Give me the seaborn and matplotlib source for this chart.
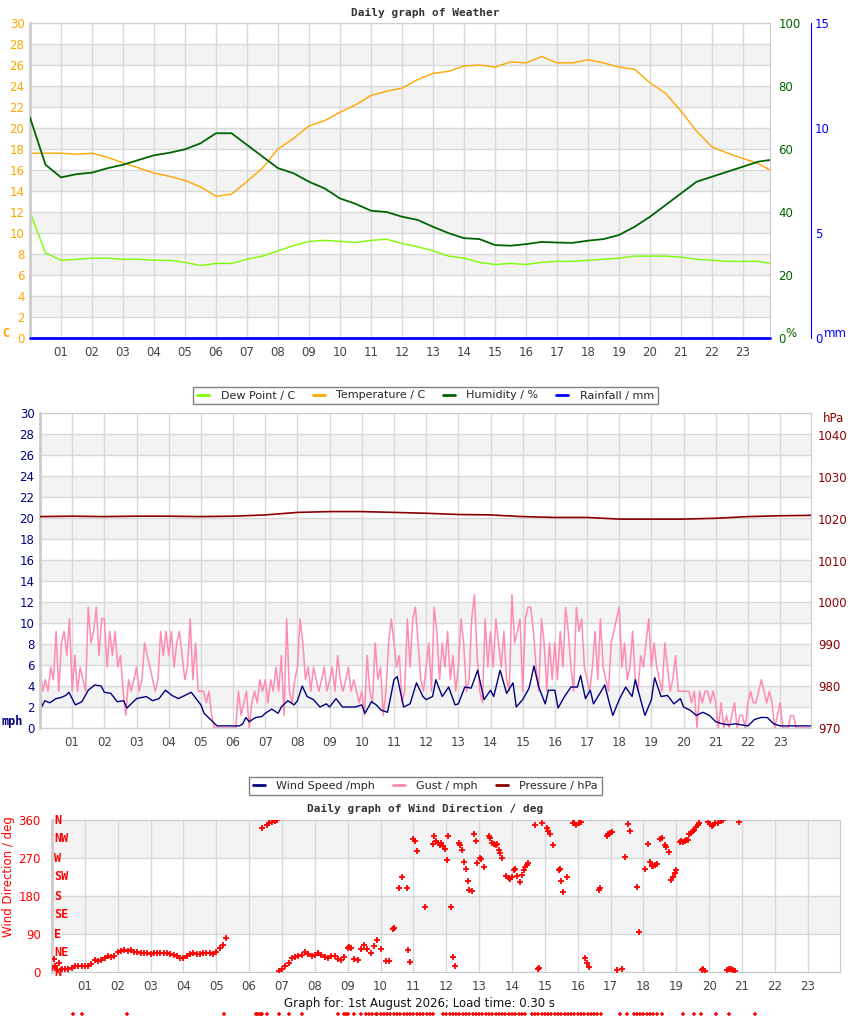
import numpy as np
import pandas as pd
import matplotlib
matplotlib.use("Agg")
import matplotlib.pyplot as plt
import matplotlib.transforms as mtransforms
from matplotlib.lines import Line2D
import seaborn as sns

# ---------------- top panel: temperature / dew point / humidity / rain
half_hours = list(np.arange(0, 24, 0.5)) + [23.87]
temperature = [17.6, 17.6, 17.6, 17.5, 17.6, 17.2, 16.7, 16.2, 15.7, 15.4,
               15.0, 14.4, 13.5, 13.7, 14.9, 16.2, 18.0, 19.0, 20.2, 20.7,
               21.5, 22.2, 23.1, 23.5, 23.8, 24.6, 25.2, 25.4, 25.9, 26.0,
               25.8, 26.3, 26.2, 26.8, 26.2, 26.2, 26.5, 26.2, 25.8, 25.6,
               24.3, 23.3, 21.6, 19.7, 18.2, 17.6, 17.1, 16.6, 16.0]
dew_point = [12.0, 8.1, 7.4, 7.5, 7.6, 7.6, 7.5, 7.5, 7.4, 7.4,
             7.2, 6.9, 7.1, 7.1, 7.5, 7.8, 8.3, 8.8, 9.2, 9.3,
             9.2, 9.1, 9.3, 9.4, 9.0, 8.7, 8.3, 7.8, 7.6, 7.2,
             7.0, 7.1, 7.0, 7.2, 7.3, 7.3, 7.4, 7.5, 7.6, 7.8,
             7.8, 7.8, 7.7, 7.5, 7.4, 7.3, 7.3, 7.3, 7.1]
humidity = [70.0, 55.0, 51.0, 52.0, 52.5, 53.9, 55.0, 56.5, 58.0, 58.8,
            59.9, 61.8, 65.0, 65.0, 61.3, 57.6, 53.9, 52.3, 49.6, 47.5,
            44.3, 42.6, 40.4, 40.0, 38.5, 37.5, 35.3, 33.3, 31.7, 31.4,
            29.5, 29.3, 29.8, 30.5, 30.3, 30.2, 30.9, 31.4, 32.7, 35.3,
            38.5, 42.2, 45.9, 49.6, 51.2, 52.8, 54.4, 56.0, 56.5]
rain_hours = [0, 23.87]
rainfall = [0.0, 0.0]

# ---------------- middle panel: wind / gust / pressure
wind_hours = [0.0, 0.05, 0.15, 0.3, 0.5, 0.65, 0.8, 0.9, 1.0, 1.1, 1.3, 1.5, 1.7, 1.9,
              2.0, 2.2, 2.4, 2.6, 2.7, 2.8, 3.0, 3.3, 3.5, 3.7, 3.9, 4.1, 4.3, 4.5,
              4.7, 4.9, 5.0, 5.1, 5.3, 5.5, 6.2, 6.3, 6.4, 6.5, 6.7, 6.9, 7.0, 7.2,
              7.4, 7.5, 7.7, 7.9, 8.0, 8.15, 8.3, 8.5, 8.7, 8.9, 9.0, 9.2, 9.4, 9.6,
              9.8, 10.0, 10.1, 10.3, 10.45, 10.6, 10.8, 10.9, 11.0, 11.1, 11.3, 11.5,
              11.7, 11.9, 12.0, 12.2, 12.3, 12.5, 12.7, 12.9, 13.0, 13.2, 13.4, 13.6,
              13.8, 14.0, 14.1, 14.3, 14.5, 14.7, 14.8, 15.0, 15.2, 15.35, 15.5, 15.7,
              15.8, 16.0, 16.1, 16.3, 16.5, 16.7, 16.8, 16.95, 17.1, 17.2, 17.4, 17.55,
              17.7, 17.8, 18.0, 18.2, 18.4, 18.5, 18.7, 18.8, 19.0, 19.1, 19.3, 19.5,
              19.7, 19.9, 20.0, 20.2, 20.4, 20.6, 20.8, 21.0, 21.2, 21.4, 21.6, 21.8,
              22.0, 22.2, 22.4, 22.6, 22.8, 23.0, 23.96]
wind_speed = [3.6, 2.0, 2.6, 2.4, 2.8, 2.9, 3.1, 3.4, 2.8, 2.2, 2.5, 3.6, 4.1, 4.0,
              3.4, 3.3, 2.5, 2.6, 1.9, 2.2, 2.8, 3.0, 2.6, 2.8, 3.6, 3.1, 2.8, 3.1,
              3.4, 2.6, 2.2, 1.4, 0.8, 0.2, 0.2, 0.4, 1.0, 0.6, 1.0, 1.1, 1.4, 1.8,
              1.4, 2.0, 2.6, 2.2, 2.6, 4.0, 3.0, 2.7, 2.0, 2.3, 2.0, 2.8, 2.0, 2.0,
              2.0, 2.2, 1.4, 2.5, 2.2, 1.7, 1.5, 3.0, 4.6, 4.9, 2.0, 2.3,
              4.3, 3.0, 2.7, 3.0, 4.6, 3.0, 3.9, 2.2, 2.3, 3.9, 3.8, 5.5,
              2.7, 3.6, 3.0, 5.5, 3.3, 4.3, 2.0, 2.7, 3.8, 5.9, 3.9, 2.3,
              3.6, 3.6, 1.9, 3.0, 3.9, 3.9, 5.0, 2.8, 3.6, 2.3, 3.3, 4.1,
              2.3, 1.2, 2.7, 3.9, 3.0, 4.6, 2.3, 1.2, 2.7, 4.8, 3.0, 3.1,
              2.3, 2.8, 2.0, 1.7, 1.2, 1.5, 1.2, 0.6, 0.4, 0.3, 0.4, 0.3,
              0.2, 0.8, 1.0, 1.0, 0.4, 0.2, 0.2]

# gust, one value every 5 minutes (one row per hour)
gust = [
    5.8, 3.5, 4.6, 3.5, 5.8, 4.6, 9.2, 3.5, 8.1, 9.2, 6.9, 10.4,
    3.5, 6.9, 3.5, 5.8, 4.6, 3.5, 11.5, 8.1, 9.2, 11.5, 6.9, 10.4,
    10.4, 5.8, 9.2, 6.9, 9.2, 5.8, 6.9, 3.5, 1.2, 4.6, 3.5, 4.6,
    5.8, 3.5, 4.6, 8.1, 6.9, 5.8, 4.6, 3.5, 4.6, 9.2, 6.9, 9.2,
    6.9, 9.2, 5.8, 8.1, 9.2, 6.9, 4.6, 5.8, 10.4, 4.6, 8.1, 3.5,
    3.5, 3.5, 2.4, 3.5, 1.2, 0, 0, 0, 0, 0, 0, 0,
    0, 0, 3.5, 1.2, 2.4, 3.5, 0, 2.4, 3.5, 2.4, 4.6, 3.5,
    4.6, 2.4, 4.6, 3.5, 5.8, 3.5, 6.9, 1.2, 10.4, 3.5, 2.4, 4.6,
    5.8, 10.4, 8.1, 4.6, 5.8, 3.5, 5.8, 4.6, 3.5, 4.6, 5.8, 3.5,
    4.6, 5.8, 3.5, 6.9, 4.6, 3.5, 4.6, 5.8, 3.5, 4.6, 3.5, 2.4,
    3.5, 1.2, 6.9, 3.5, 2.4, 8.1, 4.6, 5.8, 1.2, 3.5, 8.1, 10.4,
    8.1, 5.8, 6.9, 2.4, 3.5, 10.4, 5.8, 10.4, 11.5, 8.1, 4.6, 3.5,
    5.8, 8.1, 3.5, 11.5, 9.2, 4.6, 8.1, 5.8, 9.2, 4.6, 6.9, 3.5,
    5.8, 10.4, 8.1, 3.5, 4.6, 10.4, 12.7, 6.9, 3.5, 2.4, 10.4, 5.8,
    9.2, 5.8, 10.4, 8.1, 5.8, 9.2, 4.6, 3.5, 12.7, 8.1, 9.2, 10.4,
    3.5, 10.4, 11.5, 11.5, 9.2, 5.8, 3.5, 10.4, 8.1, 3.5, 8.1, 4.6,
    8.1, 4.6, 9.2, 5.8, 11.5, 9.2, 5.8, 3.5, 11.5, 9.2, 10.4, 5.8,
    4.6, 3.5, 5.8, 9.2, 4.6, 10.4, 5.8, 4.6, 3.5, 8.1, 9.2, 10.4,
    11.5, 5.8, 8.1, 4.6, 5.8, 9.2, 4.6, 3.5, 6.9, 5.8, 8.1, 10.4,
    5.8, 8.1, 5.8, 4.6, 3.5, 8.1, 5.8, 3.5, 4.6, 6.9, 3.5, 3.5,
    3.5, 3.5, 3.5, 2.4, 3.5, 0, 3.5, 2.4, 3.5, 3.5, 2.4, 3.5,
    2.4, 0, 2.4, 0, 1.2, 0, 1.2, 2.4, 0, 1.2, 1.2, 0,
    2.4, 3.5, 2.4, 2.4, 3.5, 4.6, 3.5, 2.4, 3.5, 2.4, 0, 1.2,
    2.4, 0, 0, 0, 1.2, 1.2, 0, 0, 0, 0, 0, 0,
]
gust_hours = np.arange(len(gust)) / 12

pressure_hours = list(range(24)) + [23.96]
pressure = [1020.5, 1020.6, 1020.5, 1020.6, 1020.6, 1020.5, 1020.6, 1020.9,
            1021.5, 1021.7, 1021.7, 1021.5, 1021.3, 1021.0, 1020.9, 1020.5,
            1020.3, 1020.3, 1019.9, 1019.9, 1019.9, 1020.1, 1020.5, 1020.7,
            1020.8]

# ---------------- bottom panel: wind direction
dir_hours = [0.0, 0.05, 0.1, 0.15, 0.2, 0.3, 0.4, 0.5, 0.6, 0.7, 0.8, 0.9, 1.0, 1.1,
             1.2, 1.3, 1.4, 1.5, 1.6, 1.7, 1.8, 1.9, 2.0, 2.1, 2.2, 2.3, 2.4, 2.5,
             2.6, 2.7, 2.8, 2.9, 3.0, 3.1, 3.2, 3.3, 3.4, 3.5, 3.6, 3.7, 3.8, 3.9,
             4.0, 4.1, 4.2, 4.3, 4.4, 4.5, 4.6, 4.7, 4.8, 4.9, 5.0, 5.1, 5.2, 5.3,
             6.4, 6.55, 6.6, 6.7, 6.8, 6.85,
             6.9, 7.0, 7.1, 7.2, 7.3, 7.4, 7.5, 7.6, 7.7, 7.8, 7.9, 8.0, 8.1, 8.2,
             8.3, 8.4, 8.5, 8.6, 8.7, 8.8, 8.9, 9.0, 9.05, 9.1, 9.2, 9.3, 9.4, 9.5,
             9.6, 9.7, 9.8, 9.9, 10.0, 10.15, 10.25, 10.37, 10.42, 10.57, 10.66,
             10.8, 10.82, 10.88, 11.0, 11.05, 11.1, 11.36, 11.58, 11.63, 11.7,
             11.75, 11.8, 11.85, 11.9, 11.95, 12.03, 12.06, 12.14, 12.2, 12.26,
             12.4, 12.43, 12.48, 12.53, 12.6, 12.66, 12.69, 12.78, 12.85, 12.9,
             12.94, 13.02, 13.05, 13.14, 13.3, 13.33, 13.4, 13.45, 13.5, 13.55,
             13.6, 13.64, 13.69, 13.83, 13.9, 13.95, 14.0, 14.05, 14.1, 14.16,
             14.23, 14.31, 14.35, 14.4, 14.45, 14.5, 14.7, 14.8, 14.83, 14.92,
             15.06, 15.1, 15.16, 15.26, 15.42, 15.45, 15.48, 15.54, 15.67, 15.85,
             15.9, 15.95, 16.05, 16.1, 16.23, 16.27, 16.33, 16.64, 16.68, 16.88,
             16.93, 16.98, 17.03, 17.18, 17.35, 17.44, 17.52, 17.58, 17.79, 17.85,
             18.05, 18.15, 18.2, 18.25, 18.3, 18.35, 18.4, 18.5, 18.55, 18.65,
             18.7, 18.77, 18.85, 18.9, 18.95, 19.0, 19.1, 19.15, 19.2, 19.25,
             19.3, 19.35, 19.4, 19.45, 19.5, 19.55, 19.6, 19.65, 19.7, 19.78,
             19.82, 19.86, 19.97, 20.03, 20.08, 20.13, 20.18, 20.28, 20.35, 20.43,
             20.53, 20.6, 20.66, 20.72, 20.78, 20.9]
dir_deg = [10, 30, 15, 5, 22, 8, 8, 8, 10, 14, 15, 14, 15, 14,
           20, 28, 26, 28, 32, 37, 35, 38, 47, 50, 52, 50, 52, 48,
           47, 46, 45, 45, 43, 44, 45, 44, 45, 44, 42, 40, 37, 34,
           32, 38, 42, 45, 42, 43, 46, 45, 44, 43, 48, 56, 65, 80,
           340, 348, 352, 355, 357, 360,
           2, 8, 15, 22, 33, 35, 38, 40, 48, 42, 38, 40, 44, 40,
           35, 33, 38, 37, 30, 28, 35, 58, 60, 58, 30, 28, 55, 65,
           55, 45, 62, 75, 55, 25, 25, 101, 105, 198, 224,
           198, 52, 24, 315, 310, 287, 153, 303, 323, 310,
           305, 300, 305, 298, 292, 265, 322, 155, 36, 14,
           305, 300, 290, 261, 244, 215, 194, 192, 328, 311,
           257, 271, 268, 249, 322, 318, 305, 302, 300, 303,
           290, 282, 271, 228, 222, 220, 224, 241, 245, 228,
           213, 229, 241, 248, 254, 259, 348, 6, 10, 354,
           340, 335, 328, 301, 241, 245, 215, 190, 226, 354,
           352, 349, 354, 356, 33, 22, 13, 194, 198, 322,
           326, 330, 332, 5, 8, 272, 350, 333, 202, 94,
           243, 303, 260, 252, 250, 254, 256, 314, 317, 301,
           295, 285, 218, 225, 235, 241, 308, 310, 309, 311,
           312, 312, 328, 330, 334, 336, 344, 348, 352, 5,
           6, 3, 356, 350, 345, 348, 352, 354, 358, 360,
           4, 6, 6, 5, 3, 356]

# stray direction readings that land below the plot area
stray_hours = [0.64, 0.9, 2.27, 5.23, 6.2, 6.25, 6.3, 6.35, 6.4, 6.55, 6.9, 7.2,
               7.6, 8.7, 8.9, 8.95, 9.0, 9.2, 9.4, 9.55, 9.65, 9.75, 9.85, 9.9,
               10.0, 10.1, 10.2, 10.3, 10.4, 10.5, 10.6, 10.7, 10.8, 10.9, 11.0,
               11.1, 11.2, 11.3, 11.4, 11.5, 11.6, 11.9, 12.0, 12.1, 12.2, 12.3,
               12.4, 12.5, 12.6, 12.7, 12.8, 12.9, 13.0, 13.1, 13.2, 13.3, 13.4,
               13.5, 13.6, 13.7, 13.8, 13.9, 14.0, 14.1, 14.2, 14.3, 14.4, 14.6,
               14.7, 14.8, 14.9, 15.0, 15.1, 15.2, 15.3, 15.4, 15.5, 15.6, 15.7,
               15.8, 15.9, 16.0, 16.1, 16.2, 16.3, 16.4, 16.5, 16.6, 16.7, 17.3,
               17.5, 17.7, 17.8, 17.9, 18.0, 18.1, 18.2, 18.3, 18.4, 18.55, 19.2,
               19.55, 19.75, 20.2, 20.6, 21.4]
stray_deg = [-100] * len(stray_hours)

compass = ["N", "NE", "E", "SE", "S", "SW", "W", "NW", "N"]
compass_deg = [0, 45, 90, 135, 180, 225, 270, 315, 360]
hour_labels = [f"{h:02d}" for h in range(1, 24)]

# ---------------- style
sns.set_style("white")
plt.rcParams["font.family"] = ["DejaVu Sans"]
plt.rcParams["font.size"] = 8

GRID = "#d8d8d8"
BAND = "#f3f3f3"
FRAME = "#cccccc"
TICK_GREY = "#444444"
MONO = "DejaVu Sans Mono"
W, H = 850, 1017


def px_box(left, top, right, bottom):
    return [left / W, 1 - bottom / H, (right - left) / W, (bottom - top) / H]


def fig_text(fig, x, y, s, **kw):
    fig.text(x / W, 1 - y / H, s, **kw)


def base_panel(ax, ymax, ystep, band, xmax, label_color):
    ax.set_xlim(0, xmax)
    ax.set_ylim(0, ymax)
    for lo in np.arange(band, ymax, 2 * band):
        ax.axhspan(lo, lo + band, color=BAND, lw=0, zorder=0)
    ax.set_yticks(np.arange(0, ymax + ystep / 2, ystep))
    ax.set_xticks(range(1, 24))
    ax.set_xticklabels(hour_labels)
    ax.grid(True, color=GRID, lw=1)
    ax.set_axisbelow(True)
    ax.tick_params(length=0, labelsize=8.5)
    ax.tick_params(axis="x", colors=TICK_GREY, pad=6)
    ax.tick_params(axis="y", colors=label_color, pad=4)
    for sp in ax.spines.values():
        sp.set_color(FRAME)
    ax.spines["left"].set_linewidth(2)
    ax.set_xlabel("")
    ax.set_ylabel("")


def bare_twin(ax, ymin, ymax, ticks, color, pad):
    tw = ax.twinx()
    tw.set_ylim(ymin, ymax)
    tw.set_yticks(ticks)
    tw.tick_params(length=0, labelsize=8.5, colors=color, pad=pad)
    tw.grid(False)
    for sp in tw.spines.values():
        sp.set_visible(False)
    return tw


fig = plt.figure(figsize=(8.5, 10.17), dpi=100)

# ===== panel 1
ax1 = fig.add_axes(px_box(30, 23, 770, 338))
base_panel(ax1, 30, 2, 2, 23.87, "#ffa500")

ax1h = bare_twin(ax1, 0, 100, range(0, 101, 20), "#006400", 6)
ax1r = bare_twin(ax1, 0, 15, [0, 5, 10, 15], "#0000ff", 3)
ax1r.spines["right"].set_visible(True)
ax1r.spines["right"].set_position(("axes", 781 / 740))
ax1r.spines["right"].set_color("#0000ff")

top = pd.DataFrame({"hour": half_hours, "temp": temperature,
                    "dew": dew_point, "hum": humidity})
sns.lineplot(data=top, x="hour", y="dew", ax=ax1, color="#7cfc00", lw=1, estimator=None)
sns.lineplot(data=top, x="hour", y="temp", ax=ax1, color="#ffa500", lw=1, estimator=None)
sns.lineplot(data=top, x="hour", y="hum", ax=ax1h, color="#006400", lw=1.3,
             estimator=None)
sns.lineplot(x=rain_hours, y=rainfall, ax=ax1r, color="#0000ff", lw=2, estimator=None,
             clip_on=False)
for a in (ax1, ax1h, ax1r):
    a.set_xlabel("")
    a.set_ylabel("")
ax1.set_xlim(0, 23.87)

fig_text(fig, 425, 13, "Daily graph of Weather", ha="center", va="center",
         family=MONO, weight="bold", size=8, color="#333333")
fig_text(fig, 6, 333, "C", ha="center", va="center", family=MONO, weight="bold",
         size=8.5, color="#ffa500")
fig_text(fig, 791, 333, "%", ha="center", va="center", size=8.5, color="#006400")
fig_text(fig, 835, 333, "mm", ha="center", va="center", size=8.5, color="#0000ff")

leg1 = [Line2D([], [], color="#7cfc00", lw=2), Line2D([], [], color="#ffa500", lw=2),
        Line2D([], [], color="#006400", lw=2), Line2D([], [], color="#0000ff", lw=2)]
fig.legend(leg1, ["Dew Point / C", "Temperature / C", "Humidity / %", "Rainfall / mm"],
           loc="center", bbox_to_anchor=(425.5 / W, 1 - 395.5 / H), ncol=4, fontsize=8,
           frameon=True, fancybox=False, edgecolor="#808080", framealpha=1,
           handlelength=1.1, handletextpad=1.0, columnspacing=1.6, borderpad=0.35)

# ===== panel 2
ax2 = fig.add_axes(px_box(40, 413, 811, 728))
base_panel(ax2, 30, 2, 2, 23.96, "#000080")
ax2p = bare_twin(ax2, 970, 1045.25, range(970, 1041, 10), "#8b0000", 5)

sns.lineplot(x=gust_hours, y=gust, ax=ax2, color="#ff8cb0", lw=1.1, estimator=None)
sns.lineplot(x=wind_hours, y=wind_speed, ax=ax2, color="#000080", lw=1, estimator=None)
sns.lineplot(x=pressure_hours, y=pressure, ax=ax2p, color="#8b0000", lw=1.2, estimator=None)
for a in (ax2, ax2p):
    a.set_xlabel("")
    a.set_ylabel("")
ax2.set_xlim(0, 23.96)

fig_text(fig, 12, 722, "mph", ha="center", va="center", family=MONO, weight="bold",
         size=8.5, color="#000080")
fig_text(fig, 833, 418, "hPa", ha="center", va="center", size=8.5, color="#8b0000")

leg2 = [Line2D([], [], color="#000080", lw=2), Line2D([], [], color="#ff8cb0", lw=2),
        Line2D([], [], color="#8b0000", lw=2)]
fig.legend(leg2, ["Wind Speed /mph", "Gust / mph", "Pressure / hPa"],
           loc="center", bbox_to_anchor=(425.5 / W, 1 - 786 / H), ncol=3, fontsize=8,
           frameon=True, fancybox=False, edgecolor="#808080", framealpha=1,
           handlelength=1.1, handletextpad=1.0, columnspacing=1.6, borderpad=0.35)

# ===== panel 3
ax3 = fig.add_axes(px_box(52, 820, 840, 972))
base_panel(ax3, 360, 90, 90, 23.98, "#ff0000")
ax3.tick_params(axis="y", pad=8)
sns.scatterplot(x=dir_hours, y=dir_deg, ax=ax3, marker="+", color="#ff0000", s=13,
                linewidth=1.3, zorder=3)
sns.scatterplot(x=stray_hours, y=stray_deg, ax=ax3, marker="+", color="#ff0000", s=10,
                linewidth=1.1, clip_on=False, zorder=3)
ax3.set_xlim(0, 23.98)
ax3.set_ylim(0, 360)
ax3.set_xlabel("")
ax3.set_ylabel("")

trans = mtransforms.blended_transform_factory(ax3.transAxes, ax3.transData)
for lab, d in zip(compass, compass_deg):
    ax3.text(0.003, d, lab, transform=trans, ha="left", va="center", family=MONO,
             weight="bold", size=8.5, color="#ff0000", zorder=4, clip_on=False)

fig_text(fig, 9, 877, "Wind Direction / deg", ha="center", va="center", rotation=90,
         size=8.5, color="#ff0000")
fig_text(fig, 425, 809, "Daily graph of Wind Direction / deg", ha="center", va="center",
         family=MONO, weight="bold", size=8, color="#333333")
fig_text(fig, 420, 1004, "Graph for: 1st August 2026; Load time: 0.30 s", ha="center",
         va="center", size=8.5, color="#111111")

fig.savefig("out.png", dpi=100)
